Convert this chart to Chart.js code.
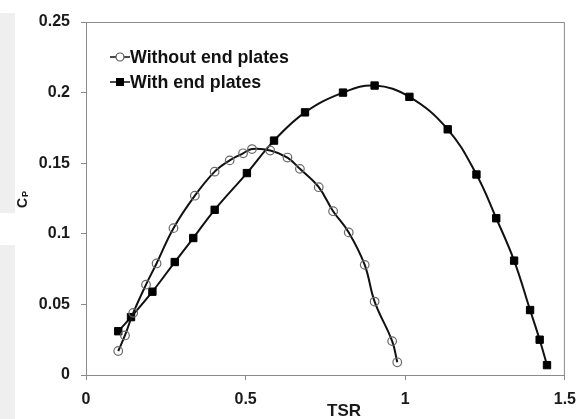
<!DOCTYPE html>
<html>
<head>
<meta charset="utf-8">
<script src="https://cdn.jsdelivr.net/npm/chart.js@4/dist/chart.umd.min.js"></script>
<style>
  body { margin: 0; background: #fff; }
  #wrap { position: relative; width: 586px; height: 419px; }
  .band { position: absolute; left: 0; width: 15px; background: #efefef; }
  canvas { position: absolute; left: 0; top: 0; }
</style>
</head>
<body>
<div id="wrap">
  <div class="band" style="top:13px;height:200px"></div>
  <div class="band" style="top:245px;height:174px"></div>
  <canvas id="chart" width="586" height="419"></canvas>
</div>
<script>
const tsrWithout = [0.101, 0.122, 0.148, 0.188, 0.221, 0.274, 0.341, 0.403, 0.450, 0.492, 0.520, 0.577, 0.631, 0.670, 0.729, 0.774, 0.823, 0.873, 0.904, 0.959, 0.975];
const cpWithout = [0.017, 0.028, 0.044, 0.064, 0.079, 0.104, 0.127, 0.144, 0.152, 0.157, 0.160, 0.159, 0.154, 0.146, 0.133, 0.116, 0.101, 0.078, 0.052, 0.024, 0.009];

const tsrWith = [0.101, 0.141, 0.208, 0.278, 0.336, 0.403, 0.504, 0.589, 0.686, 0.805, 0.904, 1.013, 1.133, 1.223, 1.285, 1.341, 1.391, 1.421, 1.444];
const cpWith = [0.031, 0.041, 0.059, 0.080, 0.097, 0.117, 0.143, 0.166, 0.186, 0.200, 0.205, 0.197, 0.174, 0.142, 0.111, 0.081, 0.046, 0.025, 0.007];

const seriesNames = ["Without end plates", "With end plates"];
const xTicks = [0, 0.5, 1, 1.5];
const yTicks = [0, 0.05, 0.1, 0.15, 0.2, 0.25];
const xTitle = "TSR";

const FONT = "'Liberation Sans', Arial, sans-serif";

function pts(xs, ys) {
    return xs.map((x, i) => ({ x: x, y: ys[i] }));
}

// frame, axis titles and the legend inside the plot
const extras = {
    id: "extras",
    afterDraw(chart) {
        const ctx = chart.ctx;
        const a = chart.chartArea;
        ctx.save();
        ctx.strokeStyle = "#8a8a8a";
        ctx.lineWidth = 1;
        ctx.beginPath();
        ctx.moveTo(a.left, a.top + 0.5);
        ctx.lineTo(a.right - 0.5, a.top + 0.5);
        ctx.lineTo(a.right - 0.5, a.bottom);
        ctx.stroke();

        ctx.fillStyle = "#1a1a1a";
        ctx.textAlign = "center";
        ctx.textBaseline = "middle";
        ctx.font = "bold 17px " + FONT;
        ctx.fillText(xTitle, 344, 411);

        // C with subscript P, rotated
        ctx.translate(23, 203);
        ctx.rotate(-Math.PI / 2);
        ctx.font = "bold 14px " + FONT;
        ctx.textAlign = "left";
        ctx.fillText("C", -5, 0);
        ctx.font = "bold 9px " + FONT;
        ctx.fillText("P", 6, 3);
        ctx.restore();

        // legend
        ctx.save();
        const rows = [57, 82];
        chart.data.datasets.forEach((ds, i) => {
            const y = rows[i];
            ctx.strokeStyle = "#111";
            ctx.lineWidth = 1.5;
            ctx.beginPath();
            ctx.moveTo(110, y);
            ctx.lineTo(130, y);
            ctx.stroke();
            if (ds.pointStyle === "rect") {
                ctx.fillStyle = "#000";
                ctx.fillRect(116, y - 4, 8, 8);
            } else {
                ctx.fillStyle = "#fff";
                ctx.strokeStyle = "#555";
                ctx.lineWidth = 1.2;
                ctx.beginPath();
                ctx.arc(120, y, 4, 0, Math.PI * 2);
                ctx.fill();
                ctx.stroke();
            }
            ctx.fillStyle = "#111";
            ctx.font = "bold 17.8px " + FONT;
            ctx.textAlign = "left";
            ctx.textBaseline = "middle";
            ctx.fillText(ds.label, 130, y + 1);
        });
        ctx.restore();
    }
};

new Chart(document.getElementById("chart"), {
    type: "scatter",
    data: {
        datasets: [{
            label: seriesNames[0],
            data: pts(tsrWithout, cpWithout),
            showLine: true,
            tension: 0.4,
            borderColor: "#111",
            borderWidth: 2,
            pointStyle: "circle",
            pointRadius: 4.3,
            pointBackgroundColor: "rgba(0,0,0,0)",
            pointBorderColor: "#6a6a6a",
            pointBorderWidth: 1.2
        }, {
            label: seriesNames[1],
            data: pts(tsrWith, cpWith),
            showLine: true,
            tension: 0.4,
            borderColor: "#111",
            borderWidth: 2,
            pointStyle: "rect",
            pointRadius: 5.2,
            pointBackgroundColor: "#000",
            pointBorderColor: "#000",
            pointBorderWidth: 1
        }]
    },
    options: {
        responsive: false,
        animation: false,
        layout: { padding: { left: 0, top: 22, right: 19, bottom: 0 } },
        plugins: {
            legend: { display: false },
            tooltip: { enabled: false }
        },
        scales: {
            x: {
                type: "linear",
                min: 0,
                max: 1.5,
                afterBuildTicks: s => { s.ticks = xTicks.map(v => ({ value: v })); },
                afterFit: s => { s.height = 44; },
                grid: { drawOnChartArea: false, tickLength: 5, color: "#8a8a8a" },
                border: { color: "#8a8a8a" },
                ticks: {
                    padding: 10,
                    color: "#1a1a1a",
                    font: { family: FONT, size: 16, weight: "bold" },
                    callback: v => String(v)
                }
            },
            y: {
                type: "linear",
                min: 0,
                max: 0.25,
                afterBuildTicks: s => { s.ticks = yTicks.map(v => ({ value: v })); },
                afterFit: s => { s.width = 86; },
                grid: { drawOnChartArea: false, tickLength: 5, color: "#8a8a8a" },
                border: { color: "#8a8a8a" },
                ticks: {
                    padding: 11,
                    color: "#1a1a1a",
                    font: { family: FONT, size: 16, weight: "bold" },
                    callback: v => String(v)
                }
            }
        }
    },
    plugins: [extras]
});
</script>
</body>
</html>
